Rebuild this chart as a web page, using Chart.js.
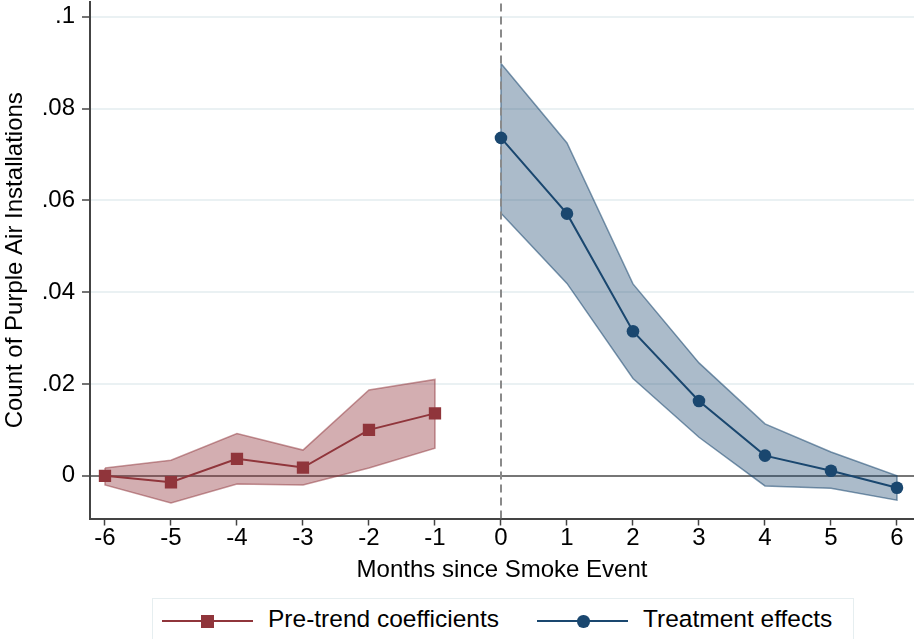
<!DOCTYPE html>
<html>
<head>
<meta charset="utf-8">
<script src="https://cdn.jsdelivr.net/npm/chart.js@4.4.0/dist/chart.umd.min.js"></script>
<style>
    html, body { margin: 0; padding: 0; background: #fff; width: 914px; height: 639px; overflow: hidden; }
    body { position: relative; font-family: "Liberation Sans", Arial, sans-serif; color: #000; }
    #chart { position: absolute; left: 0; top: 0; }
    #legend { position: absolute; left: 152px; top: 598px; width: 702px; height: 60px; border: 1.5px solid #e6eef0; box-sizing: border-box; }
    .lg { position: absolute; }
    .lg-line { height: 2px; }
    .lg-text { font-size: 24.5px; line-height: 24px; white-space: nowrap; }
</style>
</head>
<body>
<canvas id="chart" width="914" height="590"></canvas>
<div id="legend"></div>
<div class="lg lg-line" style="left:162px;top:620px;width:91px;background:#90353b"></div>
<div class="lg" style="left:201px;top:615px;width:13px;height:13px;background:#90353b"></div>
<div class="lg lg-text" style="left:268px;top:607px">Pre-trend coefficients</div>
<div class="lg lg-line" style="left:537px;top:620px;width:91px;background:#1a476f"></div>
<div class="lg" style="left:577px;top:615px;width:12.5px;height:12.5px;border-radius:50%;background:#1a476f"></div>
<div class="lg lg-text" style="left:643px;top:607px">Treatment effects</div>
<script>
// Event-study estimates
const preMonths = [-6, -5, -4, -3, -2, -1];
const preCoef   = [0, -0.0014, 0.0037, 0.0018, 0.0100, 0.0136];
const preHi     = [0.0017, 0.0034, 0.0092, 0.0056, 0.0187, 0.0210];
const preLo     = [-0.0020, -0.0059, -0.0018, -0.0020, 0.0017, 0.0060];

const postMonths = [0, 1, 2, 3, 4, 5, 6];
const postCoef   = [0.0736, 0.0571, 0.0315, 0.0163, 0.0044, 0.0011, -0.0026];
const postHi     = [0.0898, 0.0725, 0.0418, 0.0246, 0.0113, 0.0052, 0.0000];
const postLo     = [0.0572, 0.0419, 0.0212, 0.0084, -0.0022, -0.0027, -0.0053];

const xTickVals = [-6, -5, -4, -3, -2, -1, 0, 1, 2, 3, 4, 5, 6];
const yTickVals = [0, 0.02, 0.04, 0.06, 0.08, 0.1];
const yTickLabels = ['0', '.02', '.04', '.06', '.08', '.1'];

const X_MIN = -6.227, X_MAX = 6.258;
const Y_MIN = -0.0093, Y_MAX = 0.1032;

// closed outline of a confidence band: upper edge left->right, lower edge back
function band(xs, hi, lo) {
    let pts = xs.map((x, i) => ({ x: x, y: hi[i] }));
    for (let i = xs.length - 1; i >= 0; i--) pts.push({ x: xs[i], y: lo[i] });
    pts.push({ x: xs[0], y: hi[0] });
    return pts;
}
function series(xs, ys) {
    return xs.map((x, i) => ({ x: x, y: ys[i] }));
}

Chart.defaults.font.family = '"Liberation Sans", Arial, sans-serif';
Chart.defaults.color = '#000';

new Chart(document.getElementById('chart').getContext('2d'), {
    type: 'line',
    data: {
        datasets: [
            {
                data: band(preMonths, preHi, preLo),
                fill: 'shape',
                backgroundColor: 'rgba(144,53,59,0.4)',
                borderColor: 'rgba(144,53,59,0.5)',
                borderWidth: 1.5,
                pointRadius: 0,
                tension: 0,
                order: 4
            },
            {
                data: band(postMonths, postHi, postLo),
                fill: 'shape',
                backgroundColor: 'rgba(26,71,111,0.37)',
                borderColor: 'rgba(26,71,111,0.55)',
                borderWidth: 1.5,
                pointRadius: 0,
                tension: 0,
                order: 3
            },
            {
                // reference line at the event month
                data: [{ x: 0, y: Y_MIN }, { x: 0, y: Y_MAX }],
                borderColor: '#8a8a8a',
                borderWidth: 2,
                borderDash: [8, 5],
                pointRadius: 0,
                fill: false,
                order: 2
            },
            {
                label: 'Pre-trend coefficients',
                data: series(preMonths, preCoef),
                borderColor: '#90353b',
                backgroundColor: '#90353b',
                borderWidth: 2,
                pointStyle: 'rect',
                pointRadius: 8.7,
                pointBorderWidth: 0,
                fill: false,
                tension: 0,
                order: 1
            },
            {
                label: 'Treatment effects',
                data: series(postMonths, postCoef),
                borderColor: '#1a476f',
                backgroundColor: '#1a476f',
                borderWidth: 2,
                pointStyle: 'circle',
                pointRadius: 6.3,
                pointBorderWidth: 0,
                fill: false,
                tension: 0,
                order: 1
            }
        ]
    },
    options: {
        responsive: false,
        animation: false,
        devicePixelRatio: 1,
        layout: { autoPadding: false, padding: { top: 2, right: 0, left: 0, bottom: 0 } },
        plugins: {
            legend: { display: false },
            tooltip: { enabled: false }
        },
        scales: {
            x: {
                type: 'linear',
                min: X_MIN,
                max: X_MAX,
                afterBuildTicks: (scale) => { scale.ticks = xTickVals.map(v => ({ value: v })); },
                afterFit: (scale) => {
                    scale.height = 71.5;
                    scale.paddingLeft = 0;
                    scale.paddingRight = 0;
                },
                ticks: {
                    font: { size: 24 },
                    padding: -2,
                    maxRotation: 0,
                    autoSkip: false,
                    callback: (v) => String(v)
                },
                grid: {
                    drawOnChartArea: false,
                    tickLength: 7,
                    tickColor: '#444',
                    tickWidth: 1.5
                },
                border: { color: '#444', width: 2 },
                title: {
                    display: true,
                    text: 'Months since Smoke Event',
                    font: { size: 24 },
                    padding: { top: 0, bottom: 5 }
                }
            },
            y: {
                type: 'linear',
                min: Y_MIN,
                max: Y_MAX,
                afterBuildTicks: (scale) => { scale.ticks = yTickVals.map(v => ({ value: v })); },
                afterFit: (scale) => {
                    scale.width = 90;
                    scale.paddingTop = 0;
                    scale.paddingBottom = 0;
                },
                ticks: {
                    font: { size: 24 },
                    padding: 7,
                    autoSkip: false,
                    callback: (v) => yTickLabels[yTickVals.indexOf(v)]
                },
                grid: {
                    color: (ctx) => (ctx.tick && ctx.tick.value === 0) ? '#767676' : '#eaf1f3',
                    lineWidth: 2,
                    tickLength: 8,
                    tickColor: '#444',
                    tickWidth: 1.5
                },
                border: { color: '#444', width: 2 },
                title: {
                    display: true,
                    text: 'Count of Purple Air Installations',
                    font: { size: 24 },
                    padding: { top: 1, bottom: 0 }
                }
            }
        }
    }
});
</script>
</body>
</html>
